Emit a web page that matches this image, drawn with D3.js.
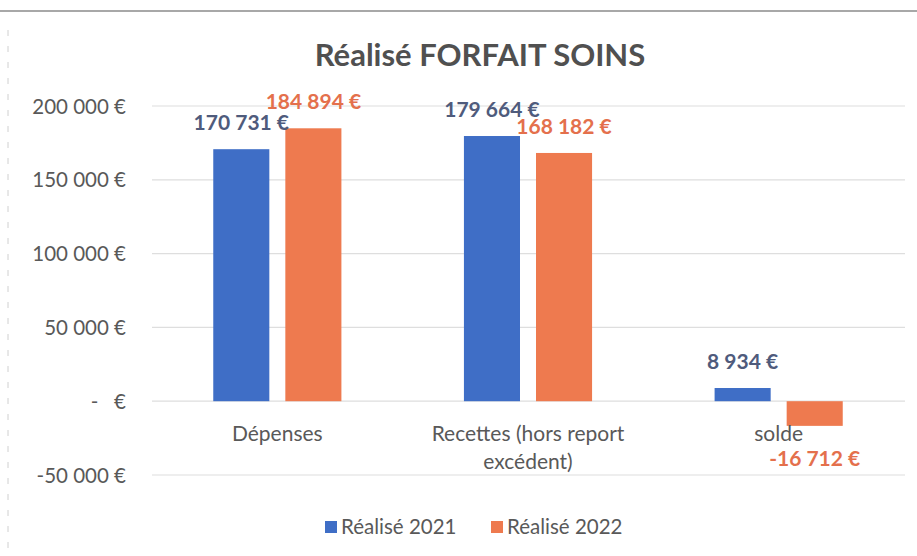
<!DOCTYPE html>
<html>
<head>
<meta charset="utf-8">
<script src="https://cdn.jsdelivr.net/npm/d3@7"></script>
<style>
  body { margin: 0; background: #fff; }
  svg text { font-family: Lato, "Open Sans", sans-serif; }
</style>
</head>
<body>
<svg id="chart" width="917" height="556"></svg>
<script>
// chart data
var CATEGORIES = ["Dépenses", "Recettes (hors report|excédent)", "solde"];
var SERIES = ["Réalisé 2021", "Réalisé 2022"];
var VALUES_2021 = [170731, 179664, 8934];
var VALUES_2022 = [184894, 168182, -16712];
var TICK_VALUES = [-50000, 0, 50000, 100000, 150000, 200000];
var TICK_LABELS = ["-50 000 €", "-   €", "50 000 €", "100 000 €", "150 000 €", "200 000 €"];
var COLORS = ["#3f6ec6", "#ee7a4f"];
var LABEL_COLORS = ["#4f5b7c", "#e4704c"];

var WIDTH = 917, HEIGHT = 556;
var PLOT = { left: 152, right: 904, top: 106, bottom: 475, gridLeft: 152, gridRight: 905 };

var svg = d3.select("#chart");

// scan border
svg.append("line")
    .attr("x1", 0).attr("x2", WIDTH)
    .attr("y1", 11).attr("y2", 11)
    .attr("stroke", "#a8a8a8").attr("stroke-width", 2);
svg.append("line")
    .attr("x1", 8).attr("x2", 8)
    .attr("y1", 30).attr("y2", HEIGHT)
    .attr("stroke", "#d0d0d0").attr("stroke-width", 1)
    .attr("stroke-dasharray", "6,10");

// title
svg.append("text")
    .attr("x", 480).attr("y", 66)
    .attr("text-anchor", "middle")
    .attr("font-size", 31).attr("font-weight", "bold")
    .attr("fill", "#505050")
    .text("Réalisé FORFAIT SOINS");

var yScale = d3.scaleLinear()
    .domain([-50000, 200000])
    .range([PLOT.bottom, PLOT.top]);

var x0 = d3.scaleBand()
    .domain(CATEGORIES)
    .range([PLOT.left, PLOT.right])
    .padding(0);

var x1 = d3.scaleBand()
    .domain(SERIES)
    .range([0, x0.bandwidth()])
    .paddingInner(0.222)
    .paddingOuter(0.85);

// gridlines
svg.append("g")
    .selectAll("line")
    .data(TICK_VALUES)
    .join("line")
    .attr("x1", PLOT.gridLeft).attr("x2", PLOT.gridRight)
    .attr("y1", d => yScale(d)).attr("y2", d => yScale(d))
    .attr("stroke", "#dedede").attr("stroke-width", 1.2);

// y axis labels
var yAxis = d3.axisLeft(yScale)
    .tickValues(TICK_VALUES)
    .tickFormat((d, i) => TICK_LABELS[i])
    .tickSize(0)
    .tickPadding(0);

var yG = svg.append("g")
    .attr("transform", `translate(126, 0)`)
    .call(yAxis);
yG.select(".domain").remove();
yG.selectAll("text")
    .attr("font-size", 20.5)
    .attr("fill", "#595959")
    .attr("dy", "0.35em")
    .style("white-space", "pre");

// bars
var rows = CATEGORIES.map((c, i) => ({
    cat: c,
    vals: [VALUES_2021[i], VALUES_2022[i]]
}));

var groups = svg.append("g")
    .selectAll("g")
    .data(rows)
    .join("g")
    .attr("transform", d => `translate(${x0(d.cat)}, 0)`);

groups.selectAll("rect")
    .data(d => d.vals.map((v, j) => ({ s: SERIES[j], v: v, j: j })))
    .join("rect")
    .attr("x", d => x1(d.s))
    .attr("width", x1.bandwidth())
    .attr("y", d => yScale(Math.max(0, d.v)))
    .attr("height", d => Math.abs(yScale(d.v) - yScale(0)))
    .attr("fill", d => COLORS[d.j]);

var fmt = v => d3.format(",")(v).replace(/,/g, " ").replace("−", "-") + " €";

groups.selectAll("text.val")
    .data(d => d.vals.map((v, j) => ({ s: SERIES[j], v: v, j: j })))
    .join("text")
    .attr("class", "val")
    .attr("x", d => x1(d.s) + x1.bandwidth() / 2)
    .attr("y", d => d.v >= 0 ? yScale(d.v) - 19 : yScale(d.v) + 40)
    .attr("text-anchor", "middle")
    .attr("font-size", 21).attr("font-weight", "bold")
    .attr("fill", d => LABEL_COLORS[d.j])
    .text(d => fmt(d.v));

// category labels
groups.each(function(d) {
    var lines = d.cat.split("|");
    var t = d3.select(this).append("text")
        .attr("text-anchor", "middle")
        .attr("font-size", 21)
        .attr("fill", "#595959");
    lines.forEach((ln, k) => {
        t.append("tspan")
            .attr("x", x0.bandwidth() / 2)
            .attr("y", 441 + k * 28)
            .text(ln);
    });
});

// legend
var legend = svg.append("g").attr("transform", "translate(325, 527)");
var legX = [0, 166];
SERIES.forEach((s, i) => {
    var g = legend.append("g").attr("transform", `translate(${legX[i]}, 0)`);
    g.append("rect")
        .attr("x", 0).attr("y", -6)
        .attr("width", 12).attr("height", 12)
        .attr("fill", COLORS[i]);
    g.append("text")
        .attr("x", 16).attr("y", 7)
        .attr("font-size", 20.5)
        .attr("fill", "#595959")
        .text(s);
});
</script>
</body>
</html>
